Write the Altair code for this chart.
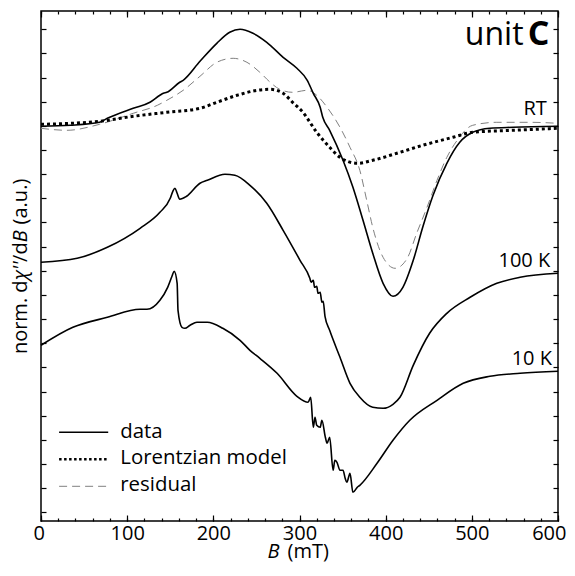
import altair as alt
import pandas as pd

FONT = "Open Sans"

# ---------------- data (B in mT, signal in a.u.) ----------------
rt_B = [0, 34, 68, 77, 107, 126.5, 138, 142, 146, 161, 165, 184.5, 204, 219, 231, 246, 262, 281, 297, 309,
        316, 324, 327, 335, 350.5, 362, 373.7, 385, 397, 408.5, 420, 432, 443, 455, 471, 486, 501, 521, 548, 600]
rt_val = [386, 387, 390, 394, 404, 410, 417, 419, 420, 430, 432, 451, 469, 480, 483, 479, 470, 455, 444, 432,
          419, 405, 395, 382, 352, 325, 292, 259, 229, 216, 225, 252, 285, 317, 349, 370, 380, 384, 385, 386]

res_B = [0, 30, 68, 107, 135, 146, 165, 184.5, 204, 223, 239, 254, 266, 277, 292, 309, 320, 332, 347, 358.6,
         370, 378, 385, 397, 411, 425, 436, 448, 459.6, 471, 483, 501, 529, 567.5, 600]
res_val = [384, 382, 388, 399, 407, 412, 422, 436, 450, 454, 450, 440, 430, 423, 420, 422, 417, 405, 385, 365,
           342, 312, 285, 255, 244, 254, 279, 305, 332, 355, 372, 387, 390, 390, 389]

lor_B = [0, 68, 107, 146, 184.5, 204, 227.5, 251, 266, 281, 292, 304, 320, 335, 347, 367, 385, 413, 443, 478,
         501, 548, 600]
lor_val = [388, 391, 396, 400, 404, 410, 417, 422, 423, 419, 410, 400, 380, 365, 355, 349, 352, 359, 367, 375,
           380, 382, 384]

k100_B = [0, 42, 77, 115, 138, 150, 153, 155.5, 158, 161, 169, 184.5, 193, 213.5, 225, 242.5, 262, 281, 300.6,
          312, 313.5, 316, 317.5, 320, 321.5, 324, 326, 327.5, 329.6, 335, 347, 358.6, 370, 385, 397, 408.5,
          416.6, 432, 451, 471, 498, 529, 556, 600]
k100_val = [250, 254, 265, 284, 300, 314, 321, 324, 319, 313, 316, 329, 332, 338, 337, 327, 309, 282, 252,
            234, 230, 232, 225, 226, 219, 220, 210, 211, 196, 182, 155, 129, 115, 105, 104, 108,
            115, 147, 179, 199, 215, 229, 235, 239]

k10_B = [0, 37, 77, 115, 123, 138, 147, 152, 154.5, 158, 159, 163.6, 167, 173, 181, 193, 211, 231, 242.5, 254,
         274, 297, 310, 313, 316, 318, 320, 324, 326, 330, 332, 335, 339, 341, 343.5, 347, 350.5, 353, 355,
         358.6, 362, 367, 370, 390, 408.5, 428, 459.6, 490, 521, 556, 600]
k10_val = [167, 185, 195, 203, 203, 212, 225, 236, 241, 229, 202, 185, 184, 187, 190, 190, 184, 172, 162, 154,
           139, 116, 110, 115, 85, 95, 87, 85, 92, 75, 69, 75, 42, 52, 50, 42, 42, 34, 30,
           39, 20, 25, 27, 49, 72, 92, 112, 129, 136, 139, 141]

x_major = [0, 100, 200, 300, 400, 500, 600]
x_minor = list(range(0, 601, 20))
y_ticks = [round(24.15 * k, 2) for k in range(21)]

legend_names = ["data", "Lorentzian model", "residual"]
legend_x0 = [21, 21, 21]
legend_x1 = [78, 78, 78]
legend_line_v = [80, 53, 26]
legend_text_x = [92, 92, 92]
legend_text_v = [74, 48, 21]

curve_labels = ["RT", "100 K", "10 K"]
curve_label_B = [587, 591, 593]
curve_label_v = [397, 245, 147]

# ---------------- frames ----------------
def series(name, B, v):
    return pd.DataFrame({"B": B, "v": v, "series": name, "i": range(len(B))})

solid = pd.concat([series("RT", rt_B, rt_val), series("100 K", k100_B, k100_val),
                   series("10 K", k10_B, k10_val)], ignore_index=True)
lor = series("model", lor_B, lor_val)
res = series("residual", res_B, res_val)

leg = pd.DataFrame({"name": legend_names, "x0": legend_x0, "x1": legend_x1,
                    "v": legend_line_v, "tx": legend_text_x, "tv": legend_text_v})
labs = pd.DataFrame({"label": curve_labels, "B": curve_label_B, "v": curve_label_v})
unit_df = pd.DataFrame({"B": [560], "v": [467], "t": ["unit"]})
c_df = pd.DataFrame({"B": [565], "v": [467], "t": ["C"]})

xs = alt.Scale(domain=[0, 600], nice=False, zero=False)
ys = alt.Scale(domain=[-8.7, 501.3], nice=False, zero=False)

common = dict(domain=False, grid=False, tickColor="black", tickWidth=1.2)
YT = 20  # y title font size


def ytitle_axis(text, ty, italic=False):
    return alt.Axis(orient="left", domain=False, grid=False, ticks=False, labels=False,
                    title=text, titleX=-15, titleY=ty, titleAngle=270, titleAlign="left",
                    titleBaseline="alphabetic", titleFont=FONT, titleFontSize=YT,
                    titleFontWeight="normal", titleFontStyle="italic" if italic else "normal",
                    titleColor="black")


x_bottom_major = alt.Axis(orient="bottom", values=x_major, tickSize=6, offset=-6, labelPadding=18,
                          labelBaseline="alphabetic", labelFont=FONT, labelFontSize=20, labelColor="black",
                          labelFlush=True, labelFlushOffset=8, labelOverlap=False, format="d",
                          title="(mT)", titleX=246, titleY=42, titleAlign="left", titleBaseline="alphabetic",
                          titleFont=FONT, titleFontSize=20, titleFontWeight="normal", titleColor="black",
                          **common)
x_bottom_minor = alt.Axis(orient="bottom", values=x_minor, tickSize=3, offset=-3, labels=False,
                          title="B", titleX=226, titleY=39, titleAlign="left", titleBaseline="alphabetic",
                          titleFont=FONT, titleFontSize=20, titleFontWeight="normal", titleFontStyle="italic",
                          titleColor="black", **common)
x_top_major = alt.Axis(orient="top", values=x_major, tickSize=6, offset=-6, labels=False, title=None, **common)
x_top_minor = alt.Axis(orient="top", values=x_minor, tickSize=3, offset=-3, labels=False, title=None, **common)
y_left = alt.Axis(orient="left", values=y_ticks, tickSize=5, offset=-5, labels=False, title=None, **common)
y_right = alt.Axis(orient="right", values=y_ticks, tickSize=5, offset=-5, labels=False, title=None, **common)

l_solid = alt.Chart(solid).mark_line(color="black", strokeWidth=1.6, interpolate="monotone").encode(
    x=alt.X("B:Q", scale=xs, axis=x_bottom_major),
    y=alt.Y("v:Q", scale=ys, axis=y_left),
    detail="series:N", order="i:Q")

l_lor = alt.Chart(lor).mark_line(color="black", strokeWidth=3, strokeDash=[3, 3],
                                 interpolate="monotone").encode(
    x=alt.X("B:Q", scale=xs, axis=x_bottom_minor),
    y=alt.Y("v:Q", scale=ys, axis=y_right),
    order="i:Q")

l_res = alt.Chart(res).mark_line(color="#808080", strokeWidth=1, strokeDash=[8, 5],
                                 interpolate="monotone").encode(
    x=alt.X("B:Q", scale=xs, axis=x_top_major),
    y=alt.Y("v:Q", scale=ys, axis=ytitle_axis("norm. d", 342.6)),
    order="i:Q")

leg_data = alt.Chart(leg).transform_filter(alt.datum.name == "data").mark_rule(
    color="black", strokeWidth=1.6).encode(
    x=alt.X("x0:Q", scale=xs, axis=x_top_minor), x2="x1:Q",
    y=alt.Y("v:Q", scale=ys, axis=ytitle_axis("χ''", 268.7, italic=True)))

leg_lor = alt.Chart(leg).transform_filter(alt.datum.name == "Lorentzian model").mark_rule(
    color="black", strokeWidth=2.5, strokeDash=[2.5, 2.5]).encode(
    x=alt.X("x0:Q", scale=xs, axis=None), x2="x1:Q",
    y=alt.Y("v:Q", scale=ys, axis=ytitle_axis("/d", 250.4)))

leg_res = alt.Chart(leg).transform_filter(alt.datum.name == "residual").mark_rule(
    color="#808080", strokeWidth=1, strokeDash=[8, 5]).encode(
    x=alt.X("x0:Q", scale=xs, axis=None), x2="x1:Q",
    y=alt.Y("v:Q", scale=ys, axis=ytitle_axis("B", 230.8, italic=True)))

leg_text = alt.Chart(leg).mark_text(align="left", baseline="alphabetic", font=FONT, fontSize=20.4,
                                    color="black").encode(
    x=alt.X("tx:Q", scale=xs, axis=None),
    y=alt.Y("tv:Q", scale=ys, axis=ytitle_axis("(a.u.)", 212.9)),
    text="name:N")

lab_text = alt.Chart(labs).mark_text(align="right", baseline="alphabetic", font=FONT, fontSize=20,
                                     color="black").encode(
    x=alt.X("B:Q", scale=xs, axis=None), y=alt.Y("v:Q", scale=ys, axis=None), text="label:N")

unit_text = alt.Chart(unit_df).mark_text(align="right", baseline="alphabetic", font=FONT, fontSize=32,
                                         color="black").encode(
    x=alt.X("B:Q", scale=xs, axis=None), y=alt.Y("v:Q", scale=ys, axis=None), text="t:N")

c_text = alt.Chart(c_df).mark_text(align="left", baseline="alphabetic", font=FONT, fontSize=34,
                                   fontWeight="bold", color="black").encode(
    x=alt.X("B:Q", scale=xs, axis=None), y=alt.Y("v:Q", scale=ys, axis=None), text="t:N")

chart = alt.layer(l_res, l_lor, l_solid, leg_data, leg_lor, leg_res, leg_text, lab_text, unit_text, c_text
                  ).resolve_axis(x="independent", y="independent").properties(
    width=517, height=510,
    padding={"left": 33, "top": 3, "right": 9, "bottom": 44},
    autosize=alt.AutoSizeParams(type="none"),
    background="white",
).configure_view(stroke="black", strokeWidth=1.5)

chart.save("out.html", embed_options={"renderer": "svg", "actions": False})
